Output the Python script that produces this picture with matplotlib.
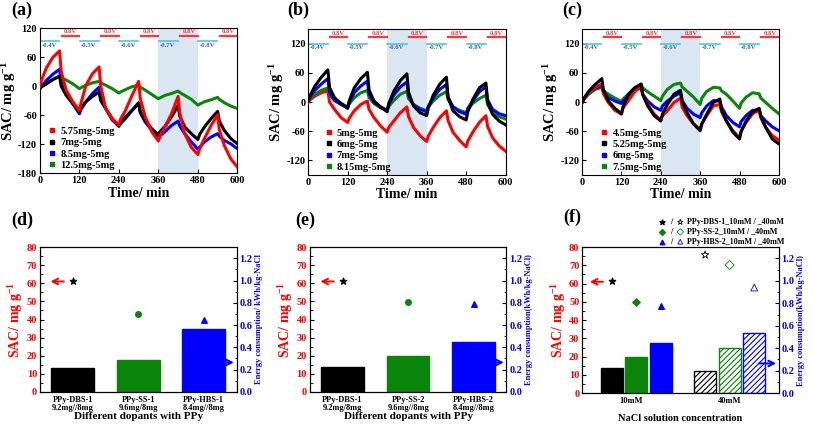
import numpy as np
import matplotlib
matplotlib.use("Agg")
import matplotlib.pyplot as plt
from matplotlib.lines import Line2D
from matplotlib.ticker import MultipleLocator, FormatStrFormatter

plt.rcParams['font.family'] = ['Liberation Serif', 'DejaVu Serif']
plt.rcParams['font.weight'] = 'bold'
plt.rcParams['axes.labelweight'] = 'bold'
plt.rcParams['mathtext.fontset'] = 'custom'
plt.rcParams['mathtext.rm'] = 'Liberation Serif:bold'
plt.rcParams['mathtext.bf'] = 'Liberation Serif:bold'
plt.rcParams['mathtext.default'] = 'rm'
plt.rcParams['axes.unicode_minus'] = False
plt.rcParams['hatch.linewidth'] = 0.8

# ------------------------------------------------------
# Time-series data (a)-(c)
# read at the start of each half cycle, +5, +20, +40, +60 min
# ------------------------------------------------------
time = [0,
        5, 20, 40, 60, 65, 80, 100, 120,
        125, 140, 160, 180, 185, 200, 220, 240,
        245, 260, 280, 300, 305, 320, 340, 360,
        365, 380, 400, 420, 425, 440, 460, 480,
        485, 500, 520, 540, 545, 560, 580, 600]

a_names = ["5.75mg-5mg", "7mg-5mg", "8.5mg-5mg", "12.5mg-5mg"]
a_red = [-1,
         12, 38, 60, 73, 30, -8, -32, -50,
         -35, 2, 26, 40, 0, -46, -67, -80,
         -68, -50, -19, 10, -25, -63, -94, -113,
         -102, -84, -57, -21, -55, -98, -126, -141,
         -130, -108, -81, -59, -90, -122, -150, -167]
a_black = [-5,
           -1, 5, 14, 21, 0, -19, -36, -53,
           -45, -32, -21, -12, -30, -46, -67, -83,
           -76, -63, -50, -34, -52, -70, -88, -100,
           -94, -83, -63, -40, -62, -84, -98, -110,
           -100, -84, -67, -52, -72, -91, -108, -119]
a_blue = [-5,
          0, 12, 25, 35, 10, -12, -36, -57,
          -48, -32, -15, -2, -22, -46, -70, -81,
          -77, -67, -50, -36, -55, -74, -91, -105,
          -102, -94, -81, -72, -82, -98, -115, -130,
          -126, -115, -105, -98, -103, -112, -119, -129]
a_green = [-5,
           -1, 5, 14, 20, 17, 13, 5, -5,
           -3, 2, 7, 10, 7, 2, -5, -14,
           -12, -7, -1, 2, -2, -8, -17, -26,
           -24, -19, -15, -10, -13, -19, -27, -39,
           -37, -32, -28, -23, -27, -34, -41, -46]

b_names = ["5mg-5mg", "6mg-5mg", "7mg-5mg", "8.15mg-5mg"]
b_red = [-1,
         4, 12, 19, 23, 0, -15, -32, -42,
         -33, -18, -5, 2, -15, -32, -49, -62,
         -52, -39, -22, -10, -30, -52, -69, -81,
         -70, -52, -32, -18, -38, -62, -79, -92,
         -80, -62, -42, -28, -50, -73, -90, -101]
b_black = [2,
           12, 32, 51, 66, 30, 9, -3, -13,
           3, 29, 48, 61, 25, 2, -10, -20,
           -3, 22, 44, 58, 20, -8, -22, -28,
           -12, 14, 37, 51, 10, -18, -30, -37,
           -20, 5, 29, 39, 0, -25, -39, -47]
b_blue = [2,
          10, 24, 37, 48, 20, 3, -5, -12,
          -1, 19, 33, 43, 17, -1, -10, -17,
          -5, 14, 31, 41, 14, -6, -15, -20,
          -9, 9, 26, 36, 10, -10, -20, -25,
          -13, 2, 21, 31, 5, -15, -24, -28]
b_green = [2,
           7, 16, 24, 29, 15, 5, -3, -10,
           -4, 9, 19, 24, 9, -3, -12, -17,
           -9, 3, 16, 22, 7, -5, -13, -18,
           -10, 2, 14, 21, 5, -10, -17, -22,
           -15, -3, 7, 14, -5, -22, -30, -35]

c_names = ["4.5mg-5mg", "5.25mg-5mg", "6mg-5mg", "7.5mg-5mg"]
c_red = [-1,
         6, 19, 30, 37, 17, -1, -17, -25,
         -12, 2, 21, 33, 15, -5, -25, -37,
         -28, -18, -1, 8, -10, -28, -45, -56,
         -45, -28, -8, -5, -20, -39, -59, -73,
         -60, -42, -24, -17, -32, -52, -69, -78]
c_black = [-1,
           7, 22, 36, 48, 25, 2, -13, -24,
           -10, 14, 29, 37, 15, -8, -28, -39,
           -25, -5, 16, 24, 2, -22, -45, -59,
           -45, -25, -1, 6, -15, -39, -62, -76,
           -60, -39, -20, -13, -30, -52, -76, -86]
c_blue = [-1,
          6, 19, 29, 33, 20, 9, 2, -3,
          2, 12, 24, 29, 16, 2, -10, -17,
          -8, 2, 12, 19, 3, -13, -25, -32,
          -22, -8, 3, 2, -10, -28, -42, -51,
          -40, -28, -17, -17, -28, -39, -51, -59]
c_green = [-1,
           5, 16, 26, 30, 23, 16, 8, 1,
           6, 16, 29, 36, 29, 21, 12, 3,
           12, 26, 36, 39, 31, 22, 10, -5,
           8, 22, 30, 29, 23, 16, 2, -13,
           -2, 10, 19, 17, 8, -1, -13, -24]

volt_labels = ["-0.4V", "-0.5V", "-0.6V", "-0.7V", "-0.8V"]

# ------------------------------------------------------
# Bar data (d)-(f)
# ------------------------------------------------------
d_labels = ["PPy-DBS-1\n9.2mg//8mg", "PPy-SS-1\n9.6mg/8mg", "PPy-HBS-1\n8.4mg//8mg"]
d_sac = [13.3, 17.8, 34.9]
d_energy = [1.0, 0.70, 0.65]

e_labels = ["PPy-DBS-1\n9.2mg/8mg", "PPy-SS-2\n9.6mg//8mg", "PPy-HBS-2\n8.4mg//8mg"]
e_sac = [13.5, 19.6, 27.4]
e_energy = [1.0, 0.81, 0.79]

f_groups = ["10mM", "40mM"]
f_series = ["PPy-DBS-1_10mM / _40mM", "PPy-SS-2_10mM / _40mM", "PPy-HBS-2_10mM / _40mM"]
f_sac_10 = [13.6, 19.7, 27.5]
f_sac_40 = [12.0, 24.6, 32.9]
f_energy_10 = [1.0, 0.81, 0.78]
f_energy_40 = [1.23, 1.14, 0.94]

RED = "#ff0000"
BLUE = "#0000ff"
GREEN = "#0a850a"
CYAN = "#4fc4ea"
VRED = "#f03c3c"
VBLUE = "#2f6db5"
SHADE = "#dae7f3"

fig = plt.figure(figsize=(8.13, 4.26), dpi=100)


def cycle_panel(rect, series, colors, names, shade, ylim, yticks, cyan_y, red_y, leg_x):
    ax = fig.add_axes(rect)
    ax.axvspan(shade[0], shade[1], color=SHADE, lw=0, zorder=0)
    for vals, c in series:
        ax.plot(time, vals, color=c, lw=2.2, zorder=3)
    # applied voltage steps
    dy = (ylim[1] - ylim[0]) * 0.03
    for k, lab in enumerate(volt_labels):
        t0 = 120 * k
        ax.plot([t0 + 1, t0 + 59], [cyan_y, cyan_y], color=CYAN, lw=1.2, zorder=2)
        ax.text(t0 + 28, cyan_y - dy, lab, color=VBLUE, fontsize=4.8,
                ha="center", va="center")
        ax.plot([t0 + 66, t0 + 119], [red_y, red_y], color=VRED, lw=1.6, zorder=2)
        ax.text(t0 + 93, red_y + dy * 0.9, "0.8V", color=VRED, fontsize=4.8,
                ha="center", va="center")
    ax.set_xlim(0, 600)
    ax.set_ylim(*ylim)
    ax.set_xticks(range(0, 601, 120))
    ax.set_yticks(yticks)
    ax.tick_params(direction="in", labelsize=7.5, length=3, pad=2)
    ax.set_xlabel("Time/ min", fontsize=10, labelpad=1)
    ax.set_ylabel("SAC/ mg g$^{-1}$", fontsize=10.5, labelpad=0)
    handles = [Line2D([], [], marker="s", ls="", color=c, ms=2.5) for c in colors]
    ax.legend(handles, names, loc="lower left", bbox_to_anchor=(leg_x, -0.02),
              frameon=False, fontsize=7.5, handletextpad=0.2, labelspacing=0.2,
              handlelength=1.2, borderaxespad=0.2)
    return ax


cycle_panel([0.049, 0.593, 0.243, 0.341],
            [(a_green, GREEN), (a_blue, BLUE), (a_black, "black"), (a_red, RED)],
            [RED, "black", BLUE, GREEN], a_names, (360, 480),
            (-180, 120), range(-180, 121, 60), 92.5, 104, 0.0)
cycle_panel([0.379, 0.589, 0.243, 0.343],
            [(b_red, RED), (b_green, GREEN), (b_blue, BLUE), (b_black, "black")],
            [RED, "black", BLUE, GREEN], b_names, (240, 360),
            (-150, 150), range(-120, 121, 60), 120, 133, 0.04)
cycle_panel([0.716, 0.589, 0.242, 0.343],
            [(c_green, GREEN), (c_blue, BLUE), (c_red, RED), (c_black, "black")],
            [RED, "black", BLUE, GREEN], c_names, (240, 360),
            (-150, 150), range(-120, 121, 60), 120, 133, 0.05)


def style_bar_axes(ax, ax2, energy_label):
    ax.set_ylim(0, 80)
    ax.yaxis.set_major_locator(MultipleLocator(10))
    ax.yaxis.set_minor_locator(MultipleLocator(5))
    ax.tick_params(axis="y", which="both", direction="in", colors="black",
                   labelcolor=RED, labelsize=7.5, pad=2)
    ax.tick_params(axis="y", which="major", length=3)
    ax.tick_params(axis="y", which="minor", length=1.8)
    ax.tick_params(axis="x", length=0, labelsize=6, pad=3)
    ax.set_ylabel("SAC/ mg g$^{-1}$", color=RED, fontsize=10, labelpad=1)
    ax2.set_ylim(0, 1.3)
    ax2.yaxis.set_major_locator(MultipleLocator(0.2))
    ax2.yaxis.set_minor_locator(MultipleLocator(0.1))
    ax2.yaxis.set_major_formatter(FormatStrFormatter("%.1f"))
    ax2.tick_params(axis="y", which="both", direction="in", colors="black",
                    labelcolor=BLUE, labelsize=7.5, pad=2)
    ax2.tick_params(axis="y", which="major", length=3)
    ax2.tick_params(axis="y", which="minor", length=1.8)
    ax2.set_ylabel(energy_label, color=BLUE, fontsize=6, labelpad=2)


def dopant_panel(rect, labels, sac, energy, energy_label):
    ax = fig.add_axes(rect)
    x = np.arange(1, len(sac) + 1)
    cols = ["black", GREEN, BLUE]
    ax.bar(x, sac, width=0.65, color=cols, edgecolor=cols, zorder=2)
    ax.set_xlim(0.5, 3.5)
    ax.set_xticks(x)
    ax.set_xticklabels(labels, linespacing=1.0)
    ax.set_xlabel("Different dopants with PPy", fontsize=8, labelpad=0)
    ax2 = ax.twinx()
    ax2.scatter(x[0], energy[0], marker="*", s=22, color="black", zorder=3)
    ax2.scatter(x[1], energy[1], marker="o", s=16, color=GREEN, zorder=3)
    ax2.scatter(x[2], energy[2], marker="^", s=16, color=BLUE, zorder=3)
    style_bar_axes(ax, ax2, energy_label)
    ax.annotate("", xy=(0.62, 61), xytext=(0.91, 61),
                arrowprops=dict(arrowstyle="->", color=RED, lw=1.4))
    ax2.annotate("", xy=(3.5, 0.265), xytext=(3.2, 0.265),
                 arrowprops=dict(arrowstyle="->", color=BLUE, lw=1.4))
    return ax


dopant_panel([0.049, 0.080, 0.242, 0.340], d_labels, d_sac, d_energy,
             "Energy consumption/ kWh/kg-NaCl")
dopant_panel([0.381, 0.080, 0.242, 0.340], e_labels, e_sac, e_energy,
             "Energy consumption(kWh/kg-NaCl)")

# (f) concentration comparison
ax = fig.add_axes([0.716, 0.077, 0.242, 0.343])
xg = np.array([1.05, 2.0])
offs = np.array([-0.25, 0.0, 0.25])
cols = ["black", GREEN, BLUE]
ax.bar(xg[0] + offs, f_sac_10, width=0.225, color=cols, edgecolor=cols, zorder=2)
ax.bar(xg[1] + offs, f_sac_40, width=0.225, color="white", edgecolor=cols,
       hatch="//////", lw=1.0, zorder=2)
ax.set_xlim(0.5, 2.5)
ax.set_xticks([1, 2])
ax.set_xticklabels(f_groups)
ax.tick_params(axis="x", labelsize=7)
ax.set_xlabel("NaCl solution concentration", fontsize=7.5, labelpad=6)
ax2 = ax.twinx()
mk = ["*", "D", "^"]
sz = [22, 14, 16]
for i in range(3):
    ax2.scatter(xg[0] + offs[i], f_energy_10[i], marker=mk[i], s=sz[i], color=cols[i], zorder=3)
    ax2.scatter(xg[1] + offs[i], f_energy_40[i], marker=mk[i], s=sz[i] * 1.5,
                facecolor="none", edgecolor=cols[i], lw=0.6, zorder=3)
style_bar_axes(ax, ax2, "Energy consumption(kWh/kg-NaCl)")
ax.annotate("", xy=(0.55, 61), xytext=(0.74, 61),
            arrowprops=dict(arrowstyle="->", color=RED, lw=1.4))
ax2.annotate("", xy=(2.5, 0.265), xytext=(2.27, 0.265),
             arrowprops=dict(arrowstyle="->", color=BLUE, lw=1.4))
# marker key above (f)
key_sz = [14, 9, 10]
for i, lab in enumerate(f_series):
    yy = 1.171 - i * 0.067
    ax.scatter(0.405, yy, marker=mk[i], s=key_sz[i], color=cols[i],
               transform=ax.transAxes, clip_on=False)
    ax.text(0.452, yy, "/", fontsize=6, ha="center", va="center", transform=ax.transAxes)
    ax.scatter(0.499, yy, marker=mk[i], s=key_sz[i] * 1.2, facecolor="none",
               edgecolor=cols[i], lw=0.6, transform=ax.transAxes, clip_on=False)
    ax.text(0.535, yy, lab, fontsize=5.8, ha="left", va="center", transform=ax.transAxes)

# panel letters
for lab, px, py in [("(a)", 22, 10), ("(b)", 298, 10), ("(c)", 572, 10),
                    ("(d)", 22, 220), ("(e)", 305, 220), ("(f)", 572, 217)]:
    fig.text(px / 813, 1 - py / 426, lab, fontsize=13, ha="center", va="center")

fig.savefig("out.png", dpi=100)
